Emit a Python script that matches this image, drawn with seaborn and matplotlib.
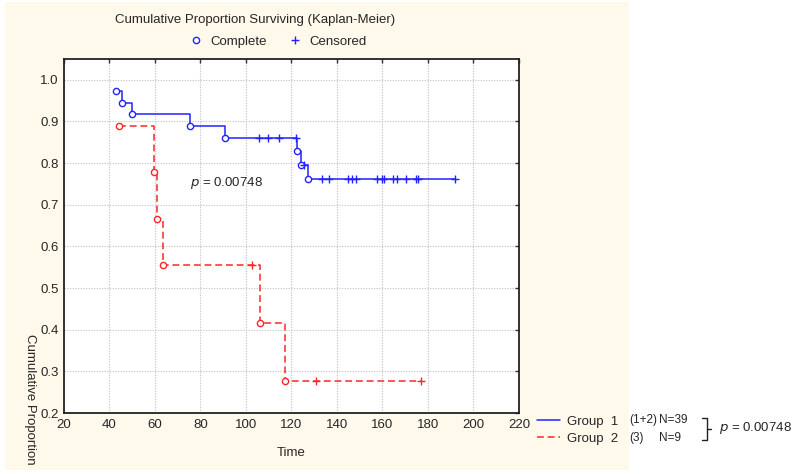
import numpy as np
import pandas as pd
import matplotlib
matplotlib.use("Agg")
import matplotlib.pyplot as plt
import seaborn as sns
from matplotlib.lines import Line2D
from matplotlib.patches import Rectangle

# ---------------- data ----------------
group_labels = ["Group  1", "Group  2"]
group_codes = ["(1+2)", "(3)"]
group_n = ["N=39", "N=9"]

g1_event_times = [42.9, 45.6, 49.8, 75.4, 90.8, 122.4, 124.2, 127.4]
g1_event_surv = [0.972, 0.944, 0.917, 0.889, 0.861, 0.828, 0.795, 0.762]
g1_censor_times = [105.7, 109.8, 114.3, 122.0, 125.6, 133.3, 136.6, 145.0,
                   146.5, 148.4, 157.4, 159.6, 160.8, 164.8, 166.2, 170.3,
                   174.7, 175.5, 191.9]

g2_event_times = [44.3, 59.7, 60.9, 63.6, 106.2, 117.3]
g2_event_surv = [0.889, 0.778, 0.667, 0.556, 0.417, 0.278]
g2_censor_times = [102.7, 130.8, 176.8]

p_value_text = "0.00748"
x_ticks = [20, 40, 60, 80, 100, 120, 140, 160, 180, 200, 220]
y_ticks = [0.2, 0.3, 0.4, 0.5, 0.6, 0.7, 0.8, 0.9, 1.0]

# ---------------- styling ----------------
sns.set_style("white")
plt.rcParams["font.family"] = ["Liberation Sans", "DejaVu Sans"]
FS = 9.5
BLUE = "#2222ff"
RED = "#ff2626"

W, H = 794, 474
fig = plt.figure(figsize=(W / 100, H / 100), dpi=100)
fig.patch.set_facecolor("white")
fig.add_artist(Rectangle((5 / W, 1 - 470 / H), (629 - 5) / W, (470 - 2) / H,
                         transform=fig.transFigure, facecolor="#fff9ec",
                         edgecolor="none", zorder=-10))

ax = fig.add_axes([64 / W, 1 - 413 / H, (519 - 64) / W, (413 - 59) / H])
ax.set_facecolor("white")


def km_frames(times, surv, censors):
    end = max(max(times), max(censors))
    line = pd.DataFrame({"time": list(times) + [end],
                         "surv": list(surv) + [surv[-1]]})
    ev = pd.DataFrame({"time": times, "surv": surv})
    idx = np.searchsorted(np.array(times), np.array(censors), side="right") - 1
    cens = pd.DataFrame({"time": censors, "surv": np.array(surv)[idx]})
    return line, ev, cens


groups = [
    (g1_event_times, g1_event_surv, g1_censor_times, BLUE, "-"),
    (g2_event_times, g2_event_surv, g2_censor_times, RED, (0, (4.5, 2.5))),
]
for times, surv, censors, col, ls in groups:
    line, ev, cens = km_frames(times, surv, censors)
    sns.lineplot(data=line, x="time", y="surv", ax=ax, color=col,
                 drawstyle="steps-post", linewidth=1.1, linestyle=ls,
                 sort=False, estimator=None, zorder=2)
    sns.scatterplot(data=ev, x="time", y="surv", ax=ax, marker="o", s=20,
                    facecolor="white", edgecolor=col, linewidth=1.0, zorder=3)
    sns.scatterplot(data=cens, x="time", y="surv", ax=ax, marker="+", s=34,
                    color=col, linewidth=1.0, zorder=3)

ax.set_xlim(20, 220)
ax.set_ylim(0.2, 1.05)
ax.set_xticks(x_ticks)
ax.set_yticks(y_ticks)
ax.set_xticklabels([str(v) for v in x_ticks], fontsize=FS)
ax.set_yticklabels([f"{v:.1f}" for v in y_ticks], fontsize=FS)
ax.tick_params(direction="in", length=3, width=1, color="#333333",
               top=True, right=True, pad=4)
ax.grid(True, linestyle=(0, (1.2, 1.2)), color="#c8c8c8", linewidth=0.8)
for sp in ax.spines.values():
    sp.set_color("#222222")
    sp.set_linewidth(1.3)

ax.set_xlabel("Time", fontsize=FS, labelpad=12)
ylab = ax.set_ylabel("Cumulative Proportion", fontsize=FS, rotation=270,
                     rotation_mode="default", ha="center", va="top")
ax.yaxis.set_label_coords((30 - 64) / 455, (413 - 334) / 354)

ax.set_title("Cumulative Proportion Surviving (Kaplan-Meier)", fontsize=FS,
             x=(255 - 64) / 455, y=1 + (59 - 20) / 354, pad=0, va="center")

ax.text(75.5, 0.752, r"$\it{p}$ = " + p_value_text, fontsize=FS,
        va="center", ha="left")

# top legend (Complete / Censored)
top_handles = [
    Line2D([], [], linestyle="none", marker="o", markersize=4.5,
           markerfacecolor="white", markeredgecolor=BLUE, markeredgewidth=1.0),
    Line2D([], [], linestyle="none", marker="+", markersize=6,
           color=BLUE, markeredgewidth=1.0),
]
leg = ax.legend(top_handles, ["Complete", "Censored"], ncol=2, frameon=False,
                fontsize=FS, loc="center",
                bbox_to_anchor=((278 - 64) / 455, (413 - 42) / 354),
                handlelength=1.0, handletextpad=0.6, columnspacing=1.6)

# bottom-right group legend
group_handles = [
    Line2D([], [], color=BLUE, linewidth=1.1),
    Line2D([], [], color=RED, linewidth=1.1, linestyle=(0, (4.5, 2.5))),
]
fig.legend(group_handles, group_labels, frameon=False, fontsize=FS,
           loc="upper left", bbox_to_anchor=(530 / W, 1 - 409 / H),
           handlelength=1.8, handletextpad=0.5, labelspacing=0.35,
           borderpad=0)
for i, ycen in enumerate([420, 438]):
    fig.text(629 / W, 1 - ycen / H, group_codes[i], fontsize=8.5, va="center")
    fig.text(659 / W, 1 - ycen / H, group_n[i], fontsize=8.5, va="center")

# brace
bx = [702, 707, 707, 702]
by = [418, 418, 440, 440]
fig.add_artist(Line2D([v / W for v in bx], [1 - v / H for v in by],
                      transform=fig.transFigure, color="#222222", lw=1.0))
fig.add_artist(Line2D([707 / W, 711 / W], [1 - 429 / H, 1 - 429 / H],
                      transform=fig.transFigure, color="#222222", lw=1.0))
fig.text(719 / W, 1 - 428 / H, r"$\it{p}$ = " + p_value_text, fontsize=FS,
         va="center", ha="left")

fig.savefig("out.png", dpi=100)
